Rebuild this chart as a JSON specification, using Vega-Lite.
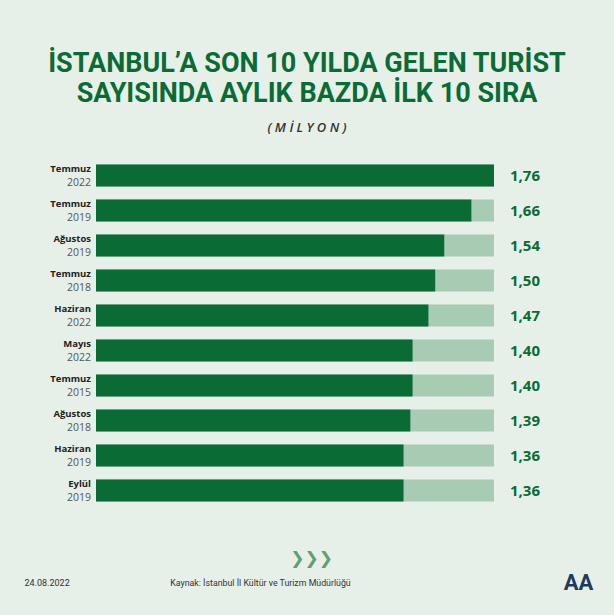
{
  "$schema": "https://vega.github.io/schema/vega-lite/v6.json",
  "width": 398,
  "height": 350,
  "autosize": {"type": "none"},
  "padding": {"left": 96, "top": 158, "right": 120, "bottom": 107},
  "background": "#e6f0e8",
  "config": {
    "view": {"stroke": null},
    "locale": {"number": {"decimal": ",", "thousands": ".", "grouping": [3], "currency": ["", " TL"]}}
  },
  "title": {
    "text": ["İSTANBUL’A SON 10 YILDA GELEN TURİST", "SAYISINDA AYLIK BAZDA İLK 10 SIRA"],
    "subtitle": "( M İ L Y O N )",
    "anchor": "middle",
    "frame": "group",
    "dx": 12,
    "offset": 22,
    "font": "Roboto",
    "fontSize": 27,
    "fontWeight": "bold",
    "color": "#0b6b35",
    "lineHeight": 30,
    "subtitleFont": "Open Sans",
    "subtitleFontSize": 13,
    "subtitleFontStyle": "italic",
    "subtitleFontWeight": 600,
    "subtitleColor": "#333333",
    "subtitlePadding": 14
  },
  "data": {
    "values": [
      {"donem": "Temmuz 2022", "ay": "Temmuz", "yil": "2022", "deger": 1.76},
      {"donem": "Temmuz 2019", "ay": "Temmuz", "yil": "2019", "deger": 1.66},
      {"donem": "Ağustos 2019", "ay": "Ağustos", "yil": "2019", "deger": 1.54},
      {"donem": "Temmuz 2018", "ay": "Temmuz", "yil": "2018", "deger": 1.50},
      {"donem": "Haziran 2022", "ay": "Haziran", "yil": "2022", "deger": 1.47},
      {"donem": "Mayıs 2022", "ay": "Mayıs", "yil": "2022", "deger": 1.40},
      {"donem": "Temmuz 2015", "ay": "Temmuz", "yil": "2015", "deger": 1.40},
      {"donem": "Ağustos 2018", "ay": "Ağustos", "yil": "2018", "deger": 1.39},
      {"donem": "Haziran 2019", "ay": "Haziran", "yil": "2019", "deger": 1.36},
      {"donem": "Eylül 2019", "ay": "Eylül", "yil": "2019", "deger": 1.36}
    ]
  },
  "resolve": {"axis": {"x": "independent", "y": "independent"}},
  "layer": [
    {
      "mark": {"type": "bar", "color": "#a8cbb4"},
      "encoding": {
        "x": {"datum": 0, "type": "quantitative", "scale": {"domain": [0, 1.76], "nice": false, "zero": true},
              "axis": {"domain": false, "ticks": false, "labels": false, "grid": false,
                       "title": "Kaynak: İstanbul İl Kültür ve Turizm Müdürlüğü",
                       "titleFont": "Roboto", "titleFontSize": 8.8, "titleFontWeight": "normal", "titleColor": "#333333",
                       "titleX": 164, "titleY": 74, "titleAlign": "center", "titleBaseline": "middle"}},
        "x2": {"datum": 1.76},
        "y": {"field": "donem", "type": "nominal", "sort": null,
              "scale": {"paddingInner": 0.37, "paddingOuter": 0.185},
              "axis": {"domain": false, "ticks": false, "labels": false, "grid": false,
                       "title": "24.08.2022", "titleAngle": 0,
                       "titleFont": "Roboto", "titleFontSize": 9, "titleFontWeight": "normal", "titleColor": "#333333",
                       "titleX": -72, "titleY": 424, "titleAlign": "left", "titleBaseline": "middle"}}
      }
    },
    {
      "mark": {"type": "bar", "color": "#0b6b35"},
      "encoding": {
        "x": {"field": "deger", "type": "quantitative", "axis": null},
        "y": {"field": "donem", "type": "nominal", "sort": null, "axis": null}
      }
    },
    {
      "mark": {"type": "text", "align": "right", "baseline": "middle", "dx": -5, "dy": -7, "font": "Open Sans", "fontSize": 9.5, "fontWeight": "bold", "color": "#222222"},
      "encoding": {
        "x": {"datum": 0, "type": "quantitative", "axis": null},
        "y": {"field": "donem", "type": "nominal", "sort": null, "axis": null},
        "text": {"field": "ay"}
      }
    },
    {
      "mark": {"type": "text", "align": "right", "baseline": "middle", "dx": -5, "dy": 7, "font": "Open Sans", "fontSize": 10.5, "color": "#555555"},
      "encoding": {
        "x": {"datum": 0, "type": "quantitative", "axis": null},
        "y": {"field": "donem", "type": "nominal", "sort": null, "axis": null},
        "text": {"field": "yil"}
      }
    },
    {
      "mark": {"type": "text", "align": "left", "baseline": "middle", "dx": 16, "font": "Open Sans", "fontSize": 15, "fontWeight": "bold", "color": "#0b6b35"},
      "encoding": {
        "x": {"datum": 1.76, "type": "quantitative",
              "axis": {"orient": "top", "domain": false, "ticks": false, "labels": false, "grid": false,
                       "title": "❯❯❯", "titleFont": "DejaVu Sans", "titleFontSize": 17, "titleFontWeight": "normal", "titleColor": "#5e9f76",
                       "titleX": 215, "titleY": 400, "titleAlign": "center", "titleBaseline": "middle"}},
        "y": {"field": "donem", "type": "nominal", "sort": null,
              "axis": {"orient": "right", "domain": false, "ticks": false, "labels": false, "grid": false,
                       "title": "AA", "titleAngle": 0, "titleFont": "Roboto", "titleFontSize": 22, "titleFontWeight": "bold", "titleColor": "#1d3a5f",
                       "titleX": 84, "titleY": 424, "titleAlign": "center", "titleBaseline": "middle"}},
        "text": {"field": "deger", "type": "quantitative", "format": ".2f"}
      }
    }
  ]
}
